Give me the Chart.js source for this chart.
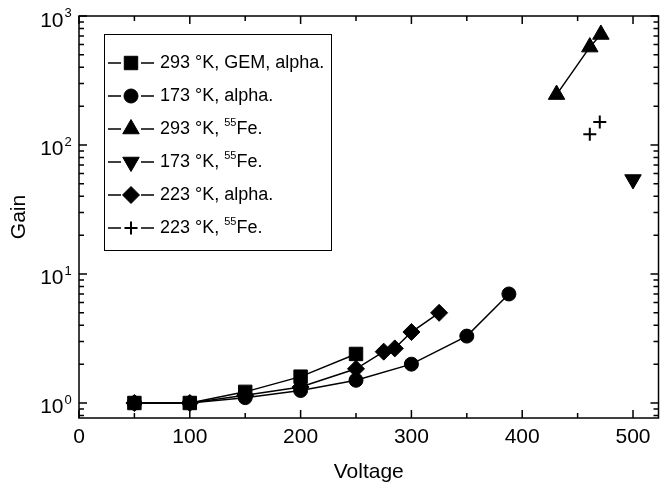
<!DOCTYPE html>
<html lang="en">
<head>
<meta charset="UTF-8">
<title>Gain vs Voltage</title>
<script src="https://cdn.jsdelivr.net/npm/chart.js"></script>
<style>
  html, body { margin:0; padding:0; background:#fff; }
  #wrap { width:669px; height:489px; }
</style>
</head>
<body>
<div id="wrap"><canvas id="gainChart" width="669" height="489"></canvas></div>
<script>
  // --- data (voltage, gain) ---
  const gem293V   = [50, 100, 150, 200, 250];
  const gem293G   = [1.0, 1.0, 1.22, 1.6, 2.4];
  const alpha173V = [50, 100, 150, 200, 250, 300, 350, 388];
  const alpha173G = [1.0, 1.0, 1.1, 1.25, 1.5, 2.0, 3.3, 7.0];
  const fe293V    = [431, 461, 471];
  const fe293G    = [246, 574, 719];
  const fe173V    = [500];
  const fe173G    = [54];
  const alpha223V = [50, 100, 150, 200, 250, 275, 285, 300, 325];
  const alpha223G = [1.0, 1.0, 1.15, 1.33, 1.84, 2.5, 2.65, 3.55, 5.0];
  const fe223V    = [461, 470];
  const fe223G    = [121, 151];

  const seriesNames = ['293 °K, GEM, alpha.', '173 °K, alpha.', '293 °K, ^55Fe.',
                       '173 °K, ^55Fe.', '223 °K, alpha.', '223 °K, ^55Fe.'];

  const xTickVals  = [0, 100, 200, 300, 400, 500];
  const xMinorVals = [50, 150, 250, 350, 450];
  const yTickExp   = [0, 1, 2, 3];

  const FONT = "'Liberation Sans', Arial, sans-serif";

  const pts = (xs, ys) => xs.map((x, i) => ({ x: x, y: ys[i] }));

  function series(label, xs, ys, style, radius, rot, line) {
    return {
      label: label,
      data: pts(xs, ys),
      showLine: line,
      borderColor: '#000',
      borderWidth: 1.5,
      backgroundColor: '#000',
      pointStyle: style,
      pointRadius: radius,
      pointHoverRadius: radius,
      pointRotation: rot,
      pointBackgroundColor: '#000',
      pointBorderColor: '#000',
      pointBorderWidth: style === 'cross' ? 2 : 1
    };
  }

  const datasets = [
    series(seriesNames[0], gem293V, gem293G, 'rect', 9.5, 0, true),
    series(seriesNames[1], alpha173V, alpha173G, 'circle', 7, 0, true),
    series(seriesNames[2], fe293V, fe293G, 'triangle', 9.5, 0, true),
    series(seriesNames[3], fe173V, fe173G, 'triangle', 9.5, 180, false),
    series(seriesNames[4], alpha223V, alpha223G, 'rectRot', 8.5, 0, true),
    series(seriesNames[5], fe223V, fe223G, 'cross', 6.5, 0, false)
  ];

  // frame, inward ticks, y labels with superscripts, boxed legend
  const framePlugin = {
    id: 'frame',
    afterDraw(chart) {
      const ctx = chart.ctx;
      const a = chart.chartArea;
      const xs = chart.scales.x, ys = chart.scales.y;
      ctx.save();
      ctx.strokeStyle = '#000';
      ctx.lineWidth = 1.5;
      ctx.strokeRect(a.left, a.top, a.right - a.left, a.bottom - a.top);

      ctx.beginPath();
      const xt = (v, len) => {
        const p = xs.getPixelForValue(v);
        ctx.moveTo(p, a.bottom); ctx.lineTo(p, a.bottom - len);
        ctx.moveTo(p, a.top);    ctx.lineTo(p, a.top + len);
      };
      xTickVals.forEach(v => xt(v, 8));
      xMinorVals.forEach(v => xt(v, 5));

      const yt = (v, len) => {
        const p = ys.getPixelForValue(v);
        ctx.moveTo(a.left, p);  ctx.lineTo(a.left + len, p);
        ctx.moveTo(a.right, p); ctx.lineTo(a.right - len, p);
      };
      yTickExp.forEach(e => yt(Math.pow(10, e), 8));
      [0.8, 0.9].forEach(v => yt(v, 5));
      for (let e = 0; e < 3; e++) {
        for (let m = 2; m <= 9; m++) yt(m * Math.pow(10, e), 5);
      }
      ctx.stroke();

      // y tick labels 10^n
      ctx.fillStyle = '#000';
      yTickExp.forEach(e => {
        const p = ys.getPixelForValue(Math.pow(10, e));
        ctx.font = '21px ' + FONT;
        ctx.textAlign = 'right';
        ctx.textBaseline = 'alphabetic';
        ctx.fillText('10', 63.5, p + 10.5);
        ctx.font = '13px ' + FONT;
        ctx.textAlign = 'left';
        ctx.fillText(String(e), 64.5, p + 1);
      });

      // legend
      const bx = 104.5, by = 34.5, bw = 227, bh = 216;
      ctx.lineWidth = 1;
      ctx.strokeRect(bx, by, bw, bh);
      chart.data.datasets.forEach((ds, i) => {
        const y = 63 + i * 33;
        ctx.lineWidth = 1.5;
        ctx.beginPath();
        ctx.moveTo(108, y); ctx.lineTo(121, y);
        ctx.moveTo(141, y); ctx.lineTo(154, y);
        ctx.stroke();
        ctx.fillStyle = '#000';
        ctx.lineWidth = ds.pointBorderWidth;
        Chart.helpers.drawPoint(ctx, {
          pointStyle: ds.pointStyle,
          radius: ds.pointRadius,
          rotation: ds.pointRotation,
          borderWidth: ds.pointBorderWidth
        }, 131, y);
        // label with optional superscript
        const parts = ds.label.split('^55');
        let x = 160;
        ctx.textAlign = 'left';
        ctx.textBaseline = 'middle';
        ctx.font = '18px ' + FONT;
        ctx.fillText(parts[0], x, y);
        if (parts.length > 1) {
          x += ctx.measureText(parts[0]).width;
          ctx.font = '11px ' + FONT;
          ctx.fillText('55', x, y - 6);
          x += ctx.measureText('55').width;
          ctx.font = '18px ' + FONT;
          ctx.fillText(parts[1], x, y);
        }
      });
      ctx.restore();
    }
  };

  new Chart(document.getElementById('gainChart'), {
    type: 'scatter',
    data: { datasets: datasets },
    options: {
      responsive: false,
      animation: false,
      devicePixelRatio: 1,
      layout: { padding: { top: 16, right: 2, left: 0, bottom: 0 } },
      plugins: { legend: { display: false }, tooltip: { enabled: false } },
      scales: {
        x: {
          type: 'linear', min: 0, max: 523,
          grid: { display: false, drawTicks: false },
          border: { display: false },
          afterBuildTicks: s => { s.ticks = xTickVals.map(v => ({ value: v })); },
          afterFit: s => { s.height = 71; },
          ticks: { color: '#000', padding: 7, font: { family: FONT, size: 21 } },
          title: { display: true, text: 'Voltage', color: '#000',
                   font: { family: FONT, size: 21 }, padding: { top: 0, bottom: 4 } }
        },
        y: {
          type: 'logarithmic', min: 0.765, max: 1000,
          grid: { display: false, drawTicks: false },
          border: { display: false },
          ticks: { display: false },
          afterFit: s => { s.width = 79; },
          title: { display: true, text: 'Gain', color: '#000',
                   font: { family: FONT, size: 21 }, padding: { top: 7, bottom: 0 } }
        }
      }
    },
    plugins: [framePlugin]
  });
</script>
</body>
</html>
